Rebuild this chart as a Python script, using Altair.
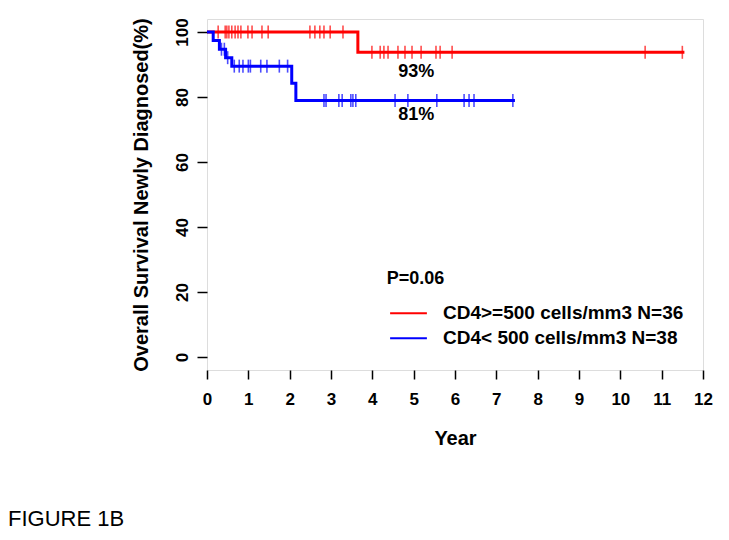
import altair as alt
import pandas as pd

# ---------------- data ----------------
groups = ["CD4>=500 cells/mm3 N=36", "CD4< 500 cells/mm3 N=38"]
colors = ["#FF0000", "#0000FF"]

# Kaplan-Meier step points (time in years, survival %)
red_step_t = [0.0, 3.65, 11.55]
red_step_s = [100.0, 93.75, 93.75]
red_cens_t = [0.27, 0.44, 0.48, 0.53, 0.60, 0.68, 0.75, 0.82, 0.99, 1.09,
              1.33, 1.48, 2.49, 2.61, 2.73, 2.83, 2.98, 3.29,
              3.99, 4.19, 4.28, 4.38, 4.62, 4.79, 4.96, 5.18, 5.54,
              5.64, 5.93, 10.6, 11.5]

blue_step_t = [0.0, 0.15, 0.30, 0.45, 0.60, 2.05, 2.15, 7.45]
blue_step_s = [100.0, 97.4, 94.7, 92.1, 89.5, 84.2, 78.9, 78.9]
blue_cens_t = [0.35, 0.42, 0.50, 0.66, 0.78, 0.87, 1.00, 1.05, 1.30, 1.45,
               1.75, 1.95, 2.83, 2.88, 3.19, 3.27, 3.48, 3.53, 3.60,
               4.55, 4.86, 5.56, 6.22, 6.34, 6.46, 7.40]

x_ticks = list(range(0, 13))
y_ticks = [0, 20, 40, 60, 80, 100]

annot_text = ["93%", "81%"]
p_text = "P=0.06"
fig_label = "FIGURE 1B"


def surv_at(t, times, surv):
    s = surv[0]
    for tt, ss in zip(times, surv):
        if tt <= t:
            s = ss
    return s


step_rows = []
for g, ts, ss in [(groups[0], red_step_t, red_step_s), (groups[1], blue_step_t, blue_step_s)]:
    for t, s in zip(ts, ss):
        step_rows.append({"group": g, "t": t, "s": s})
steps_df = pd.DataFrame(step_rows)

cens_rows = []
for g, cs, ts, ss in [(groups[0], red_cens_t, red_step_t, red_step_s),
                      (groups[1], blue_cens_t, blue_step_t, blue_step_s)]:
    for t in cs:
        cens_rows.append({"group": g, "t": t, "s": surv_at(t, ts, ss)})
cens_df = pd.DataFrame(cens_rows)

FONT = "Liberation Sans"

x_scale = alt.Scale(domain=[0, 12], nice=False, zero=False)
y_scale = alt.Scale(domain=[-4, 104], nice=False, zero=False)
color_scale = alt.Scale(domain=groups, range=colors)

x_axis = alt.Axis(values=x_ticks, title="Year", grid=False, domain=False,
                  tickSize=9, tickWidth=1.5, tickColor="black",
                  labelFont=FONT, labelFontSize=17, labelFontWeight="bold",
                  labelColor="black", labelPadding=12, labelFlush=False,
                  titleFont=FONT, titleFontSize=20, titleFontWeight="bold",
                  titleColor="black", titleY=68, titleBaseline="middle")
y_axis = alt.Axis(values=y_ticks, title="Overall Survival Newly Diagnosed(%)",
                  grid=False, domain=False,
                  tickSize=10, tickWidth=1.5, tickColor="black",
                  labelFont=FONT, labelFontSize=17, labelFontWeight="bold",
                  labelColor="black", labelAngle=270, labelAlign="center",
                  labelBaseline="middle", labelPadding=15, labelFlush=False,
                  titleFont=FONT, titleFontSize=20, titleFontWeight="bold",
                  titleColor="black", titleAngle=270, titleX=-66, titleY=175.5,
                  titleAlign="center", titleBaseline="middle")

lines = alt.Chart(steps_df).mark_line(interpolate="step-after", strokeWidth=3).encode(
    x=alt.X("t:Q", scale=x_scale, axis=x_axis),
    y=alt.Y("s:Q", scale=y_scale, axis=y_axis),
    color=alt.Color("group:N", scale=color_scale, legend=None),
    detail="group:N",
)

censors = alt.Chart(cens_df).mark_tick(orient="vertical", size=13, thickness=1.6).encode(
    x=alt.X("t:Q", scale=x_scale),
    y=alt.Y("s:Q", scale=y_scale),
    color=alt.Color("group:N", scale=color_scale, legend=None),
)

# percentage annotations under the curves
annot_df = pd.DataFrame({"label": annot_text, "t": [5.06, 5.06], "s": [87.7, 74.5]})
annots = alt.Chart(annot_df).mark_text(font=FONT, fontSize=18, fontWeight="bold",
                                       color="black", align="center", baseline="middle").encode(
    x=alt.X("t:Q", scale=x_scale), y=alt.Y("s:Q", scale=y_scale), text="label:N")

p_df = pd.DataFrame({"label": [p_text], "t": [4.35], "s": [24.0]})
ptxt = alt.Chart(p_df).mark_text(font=FONT, fontSize=18, fontWeight="bold",
                                 color="black", align="left", baseline="middle").encode(
    x=alt.X("t:Q", scale=x_scale), y=alt.Y("s:Q", scale=y_scale), text="label:N")

# manual legend (in data coordinates)
leg_df = pd.DataFrame({"group": groups, "x1": [4.43, 4.43], "x2": [5.32, 5.32],
                       "tx": [5.71, 5.71], "s": [13.5, 5.8]})
leg_lines = alt.Chart(leg_df).mark_rule(strokeWidth=2).encode(
    x=alt.X("x1:Q", scale=x_scale), x2="x2:Q",
    y=alt.Y("s:Q", scale=y_scale),
    color=alt.Color("group:N", scale=color_scale, legend=None))
leg_text = alt.Chart(leg_df).mark_text(font=FONT, fontSize=19, fontWeight="bold",
                                       color="black", align="left", baseline="middle").encode(
    x=alt.X("tx:Q", scale=x_scale), y=alt.Y("s:Q", scale=y_scale), text="group:N")

# figure label below the plot (pixel offsets relative to the plot area)
fig_df = pd.DataFrame({"label": [fig_label]})
fig_txt = alt.Chart(fig_df).mark_text(font=FONT, fontSize=22, fontWeight="normal",
                                      color="black", align="left", baseline="middle").encode(
    x=alt.value(-199), y=alt.value(500), text="label:N")

chart = alt.layer(lines, censors, annots, ptxt, leg_lines, leg_text, fig_txt).properties(
    width=496, height=351,
    autosize="none",
    padding={"left": 199, "top": 11, "right": 10, "bottom": 160},
).configure_view(stroke="black", strokeWidth=1.5).configure(background="white")

chart.save("out.html", embed_options={"renderer": "svg", "actions": False})
